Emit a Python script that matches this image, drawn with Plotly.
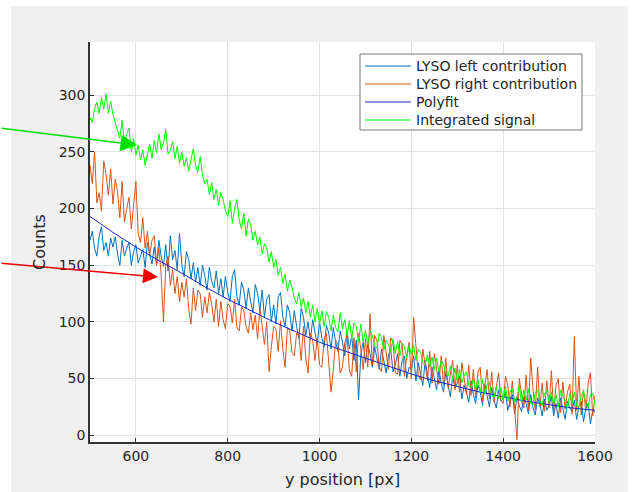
import plotly.graph_objects as go

# ---------------- data ----------------
x_pos = list(range(500, 1601, 5))          # y position [px], sampled every 5 px
x_fit = list(range(500, 1601, 50))

lyso_left = [
    172, 180, 165, 158, 176, 184, 163, 170, 158, 174,
    166, 175, 160, 150, 172, 158, 165, 170, 150, 162,
    168, 152, 158, 164, 148, 170, 160, 151, 166, 150,
    172, 158, 149, 168, 145, 176, 155, 163, 146, 178,
    150, 140, 162, 155, 138, 152, 135, 148, 132, 150,
    141, 128, 148, 136, 130, 145, 125, 138, 122, 140,
    126, 118, 140, 146, 122, 115, 135, 128, 112, 130,
    118, 108, 133, 125, 110, 128, 104, 120, 124, 100,
    115, 98, 122, 126, 104, 96, 115, 108, 92, 110,
    96, 85, 112, 104, 88, 100, 84, 102, 91, 80,
    100, 86, 78, 97, 90, 76, 95, 82, 74, 92,
    82, 70, 92, 76, 88, 66, 84, 31, 72, 82,
    64, 80, 72, 60, 78, 68, 58, 76, 64, 55,
    70, 76, 56, 62, 72, 52, 66, 70, 50, 60,
    58, 70, 48, 64, 54, 44, 66, 52, 42, 60,
    50, 40, 58, 46, 38, 56, 44, 34, 52, 42,
    46, 52, 32, 44, 38, 29, 48, 36, 28, 44,
    38, 26, 45, 34, 25, 42, 31, 24, 40, 30,
    32, 38, 22, 30, 36, 19, 34, 26, 21, 34,
    28, 19, 36, 24, 18, 33, 27, 17, 32, 22,
    26, 34, 17, 28, 15, 33, 22, 14, 30, 24,
    21, 31, 14, 26, 30, 12, 24, 28, 10, 22,
    20,
]

lyso_right = [
    238, 222, 250, 205, 214, 198, 242, 230, 212, 235,
    204, 226, 215, 192, 224, 188, 200, 210, 182, 205,
    224, 178, 170, 192, 165, 180, 158, 172, 176, 150,
    165, 142, 100, 150, 158, 132, 146, 125, 140, 118,
    135, 122, 138, 112, 98, 130, 110, 128, 125, 104,
    122, 108, 126, 116, 100, 120, 96, 118, 102, 94,
    116, 114, 99, 120, 95, 92, 113, 110, 96, 90,
    108, 93, 106, 85, 112, 96, 80, 100, 56, 78,
    96, 94, 74, 101, 76, 60, 95, 92, 73, 70,
    90, 88, 66, 96, 68, 55, 90, 84, 66, 86,
    62, 60, 84, 90, 62, 38, 58, 84, 80, 55,
    60, 82, 88, 57, 52, 86, 56, 90, 76, 58,
    85, 60, 107, 62, 88, 84, 60, 56, 88, 74,
    58, 86, 82, 55, 54, 84, 80, 52, 70, 82,
    50, 104, 78, 53, 49, 76, 62, 48, 74, 46,
    72, 58, 45, 70, 44, 68, 42, 54, 66, 40,
    62, 38, 64, 50, 36, 62, 35, 58, 33, 55,
    60, 30, 46, 58, 32, 56, 29, 42, 55, 31,
    28, 52, 44, 25, 48, 23, -4, 50, 38, 24,
    53, 22, 68, 40, 22, 60, 25, 46, 21, 48,
    24, 57, 20, 44, 50, 20, 47, 23, 38, 45,
    19, 87, 22, 52, 18, 40, 21, 46, 55, 17,
    35,
]

polyfit = [193, 179, 166, 154, 143, 131, 120, 110, 100, 91, 82, 75,
           68, 61, 54, 48, 43, 38, 34, 30, 27, 24, 22]

integrated = [
    280, 276, 288, 294, 284, 298, 288, 301, 284, 295,
    283, 276, 270, 262, 278, 258, 266, 271, 250, 262,
    247, 256, 243, 252, 238, 249, 257, 244, 260, 249,
    266, 252, 258, 270, 248, 251, 259, 244, 255, 240,
    250, 237, 245, 233, 243, 253, 238, 232, 246, 230,
    222, 226, 212, 223, 208, 217, 203, 214, 208, 198,
    193, 207, 187, 200, 208, 190, 182, 196, 176, 191,
    186, 172, 180, 168, 175, 160, 169, 165, 153, 162,
    148, 155, 141, 148, 134, 142, 127, 137, 130, 121,
    116, 126, 113, 121, 108, 118, 104, 115, 100, 112,
    98, 110, 96, 109, 104, 92, 106, 95, 91, 108,
    94, 102, 88, 101, 85, 99, 96, 83, 98, 82,
    93, 80, 92, 88, 79, 77, 90, 86, 75, 84,
    80, 74, 85, 72, 83, 70, 81, 78, 68, 79,
    71, 79, 66, 76, 73, 64, 62, 71, 60, 69,
    58, 68, 56, 66, 63, 54, 52, 61, 49, 59,
    47, 58, 46, 53, 56, 44, 42, 50, 40, 49,
    38, 49, 36, 45, 47, 35, 33, 43, 32, 42,
    31, 43, 30, 39, 41, 29, 33, 44, 28, 40,
    31, 41, 28, 27, 38, 40, 30, 26, 37, 39,
    29, 38, 27, 36, 25, 40, 35, 29, 24, 37,
    28, 38, 26, 25, 35, 39, 28, 24, 36, 37,
    27,
]

series_names = ["LYSO left contribution", "LYSO right contribution",
                "Polyfit", "Integrated signal"]
series_colors = ["#0072BD", "#D95319", "#2222CC", "#00FF00"]

y_ticks = [0, 50, 100, 150, 200, 250, 300]
x_ticks = [600, 800, 1000, 1200, 1400, 1600]
x_title = "y position [px]"
y_title = "Counts"

# ---------------- layout geometry ----------------
W, H = 638, 492
ML, MR, MT, MB = 90, 43, 42, 50
PW, PH = W - ML - MR, H - MT - MB


def px_x(px):
    return (px - ML) / PW


def px_y(py):
    return (H - MB - py) / PH


FONT = "DejaVu Sans"
TXT = "#262626"

fig = go.Figure()
xs = [x_pos, x_pos, x_fit, x_pos]
ys = [lyso_left, lyso_right, polyfit, integrated]
for xv, yv, nm, col in zip(xs, ys, series_names, series_colors):
    fig.add_trace(go.Scatter(x=xv, y=yv, mode="lines", name=nm,
                             line=dict(color=col, width=1), showlegend=False))

shapes = [
    # white outer strips around the grey figure area
    dict(type="rect", xref="paper", yref="paper", x0=px_x(-5), x1=px_x(W + 5),
         y0=px_y(6), y1=px_y(-5), fillcolor="white", line_width=0, layer="below"),
    dict(type="rect", xref="paper", yref="paper", x0=px_x(-5), x1=px_x(11),
         y0=px_y(H + 5), y1=px_y(-5), fillcolor="white", line_width=0, layer="below"),
    dict(type="rect", xref="paper", yref="paper", x0=px_x(628), x1=px_x(W + 5),
         y0=px_y(H + 5), y1=px_y(-5), fillcolor="white", line_width=0, layer="below"),
    # legend box
    dict(type="rect", xref="paper", yref="paper", x0=px_x(360), x1=px_x(582),
         y0=px_y(130), y1=px_y(54), fillcolor="white",
         line=dict(color="#777777", width=1), layer="above"),
]

annotations = [
    dict(xref="paper", yref="paper", x=px_x(137), y=px_y(145), ax=-137, ay=-17,
         axref="pixel", ayref="pixel", text="", showarrow=True, arrowhead=2,
         arrowsize=2.2, arrowwidth=1.5, arrowcolor="#00DD00", standoff=0),
    dict(xref="paper", yref="paper", x=px_x(158), y=px_y(277), ax=-158, ay=-14,
         axref="pixel", ayref="pixel", text="", showarrow=True, arrowhead=2,
         arrowsize=2.0, arrowwidth=1.5, arrowcolor="#EE0000", standoff=0),
    # axis titles
    dict(xref="paper", yref="paper", x=0.5, y=px_y(479), xanchor="center",
         yanchor="middle", showarrow=False, text=x_title,
         font=dict(family=FONT, size=16, color=TXT)),
    dict(xref="paper", yref="paper", x=px_x(39), y=0.5, xanchor="center",
         yanchor="middle", showarrow=False, text=y_title, textangle=-90,
         font=dict(family=FONT, size=16, color=TXT)),
]

# legend entries (line sample + label)
row_y = [66, 84, 102, 120]
for ry, nm, col in zip(row_y, series_names, series_colors):
    shapes.append(dict(type="line", xref="paper", yref="paper",
                       x0=px_x(365), x1=px_x(411), y0=px_y(ry), y1=px_y(ry),
                       line=dict(color=col, width=1.2), layer="above"))
    annotations.append(dict(xref="paper", yref="paper", x=px_x(414), y=px_y(ry),
                            xanchor="left", yanchor="middle", showarrow=False,
                            text=nm, font=dict(family=FONT, size=14, color=TXT)))

fig.update_layout(
    width=W, height=H, autosize=False,
    margin=dict(l=ML, r=MR, t=MT, b=MB, pad=0),
    paper_bgcolor="#F0F0F0", plot_bgcolor="white",
    font=dict(family=FONT, size=14, color=TXT),
    showlegend=False,
    shapes=shapes,
    annotations=annotations,
    xaxis=dict(range=[500, 1600], tickvals=x_ticks, showgrid=True, gridcolor="#E2E2E2",
               gridwidth=1, zeroline=False, showline=True, linecolor="#333333", linewidth=1.5,
               ticks="inside", ticklen=4, tickcolor="#333333", mirror=False,
               tickfont=dict(family=FONT, size=14, color=TXT), automargin=False),
    yaxis=dict(range=[-6, 347], tickvals=y_ticks, showgrid=True, gridcolor="#E2E2E2",
               gridwidth=1, zeroline=False, showline=True, linecolor="#333333", linewidth=1.5,
               ticks="inside", ticklen=4, tickcolor="#333333", mirror=False,
               tickfont=dict(family=FONT, size=14, color=TXT), automargin=False),
)

fig.write_html("out.html")
